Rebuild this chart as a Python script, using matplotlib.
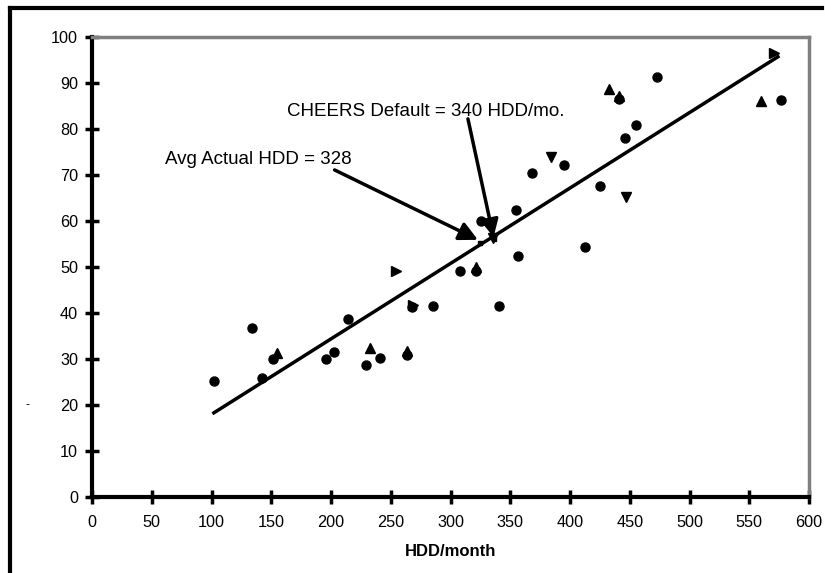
import matplotlib
matplotlib.use("Agg")
import matplotlib.pyplot as plt
from matplotlib.lines import Line2D

plt.rcParams['font.family'] = ['Liberation Sans', 'DejaVu Sans']

# points (HDD/month, y value)
circ_x = [102, 134, 142, 151.5, 196, 202.5, 214, 229, 241, 263.6, 268, 285, 308, 321,
          325.5, 341, 355, 356.5, 368, 395, 412.5, 425, 441, 446, 455, 472.8, 576.6]
circ_y = [25.2, 36.7, 25.9, 30, 30, 31.6, 38.7, 28.7, 30.2, 30.9, 41.3, 41.5, 49.1, 49.1,
          60, 41.5, 62.4, 52.4, 70.4, 72.2, 54.3, 67.6, 86.5, 78, 80.9, 91.3, 86.3]
up_x = [155, 232.6, 263.5, 321, 432.6, 560, 441]
up_y = [31.2, 32.4, 31.8, 50, 88.7, 86, 87.2]
down_x = [384, 447, 335.6]
down_y = [74, 65.2, 56.3]
right_x = [254, 570.7, 268.5]
right_y = [49.1, 96.5, 41.8]
sq_x = [325, 336]
sq_y = [55.2, 56]

fit_x = [102, 574]
fit_y = [18.3, 95.7]

xticks = list(range(0, 601, 50))
yticks = list(range(0, 101, 10))

fig = plt.figure(figsize=(8.25, 5.73), dpi=100)
ax = fig.add_axes([92/825, 1-497/573, (809-92)/825, (497-37)/573])

ms = 6.5
ax.plot(circ_x, circ_y, 'o', color='black', ms=ms, zorder=3)
ax.plot(up_x, up_y, '^', color='black', ms=ms, zorder=3)
ax.plot(down_x, down_y, 'v', color='black', ms=ms, zorder=3)
ax.plot(right_x, right_y, '>', color='black', ms=ms, zorder=3)
ax.plot(sq_x, sq_y, 's', color='black', ms=3.5, zorder=3)
ax.plot(fit_x, fit_y, '-', color='black', lw=2.5, zorder=2)

# annotations
ax.text(61, 73.3, 'Avg Actual HDD = 328', fontsize=13.5, ha='left', va='center')
ax.annotate('', xy=(323, 55.9), xytext=(203, 71.1),
            arrowprops=dict(arrowstyle='-|>', mutation_scale=28, lw=2.5, color='black',
                            shrinkA=0, shrinkB=0))
ax.text(163, 83.7, 'CHEERS Default = 340 HDD/mo.', fontsize=13.5, ha='left', va='center')
ax.annotate('', xy=(336, 56.5), xytext=(314.6, 82.2),
            arrowprops=dict(arrowstyle='-|>', mutation_scale=26, lw=2.5, color='black',
                            shrinkA=0, shrinkB=0))

ax.set_xlim(0, 600)
ax.set_ylim(0, 100)
ax.set_xticks(xticks)
ax.set_yticks(yticks)
ax.tick_params(direction='inout', length=10, width=2.5, labelsize=11.7)
ax.tick_params(axis='x', pad=8)
ax.tick_params(axis='y', pad=5)
for s in ['left', 'bottom']:
    ax.spines[s].set_linewidth(3)
    ax.spines[s].set_color('black')
for s in ['top', 'right']:
    ax.spines[s].set_linewidth(2.5)
    ax.spines[s].set_color('#808080')
ax.set_xlabel('HDD/month', fontsize=12, fontweight='bold', labelpad=10)

fig.text(27/825, 1-405/573, '-', fontsize=9, ha='center', va='center')

# outer frame, left and top edges
fig.add_artist(Line2D([10/825, 10/825], [0, 1-8/573], color='black', lw=3))
fig.add_artist(Line2D([10/825, 822/825], [1-8/573, 1-8/573], color='black', lw=3))

fig.savefig('out.png', dpi=100)
